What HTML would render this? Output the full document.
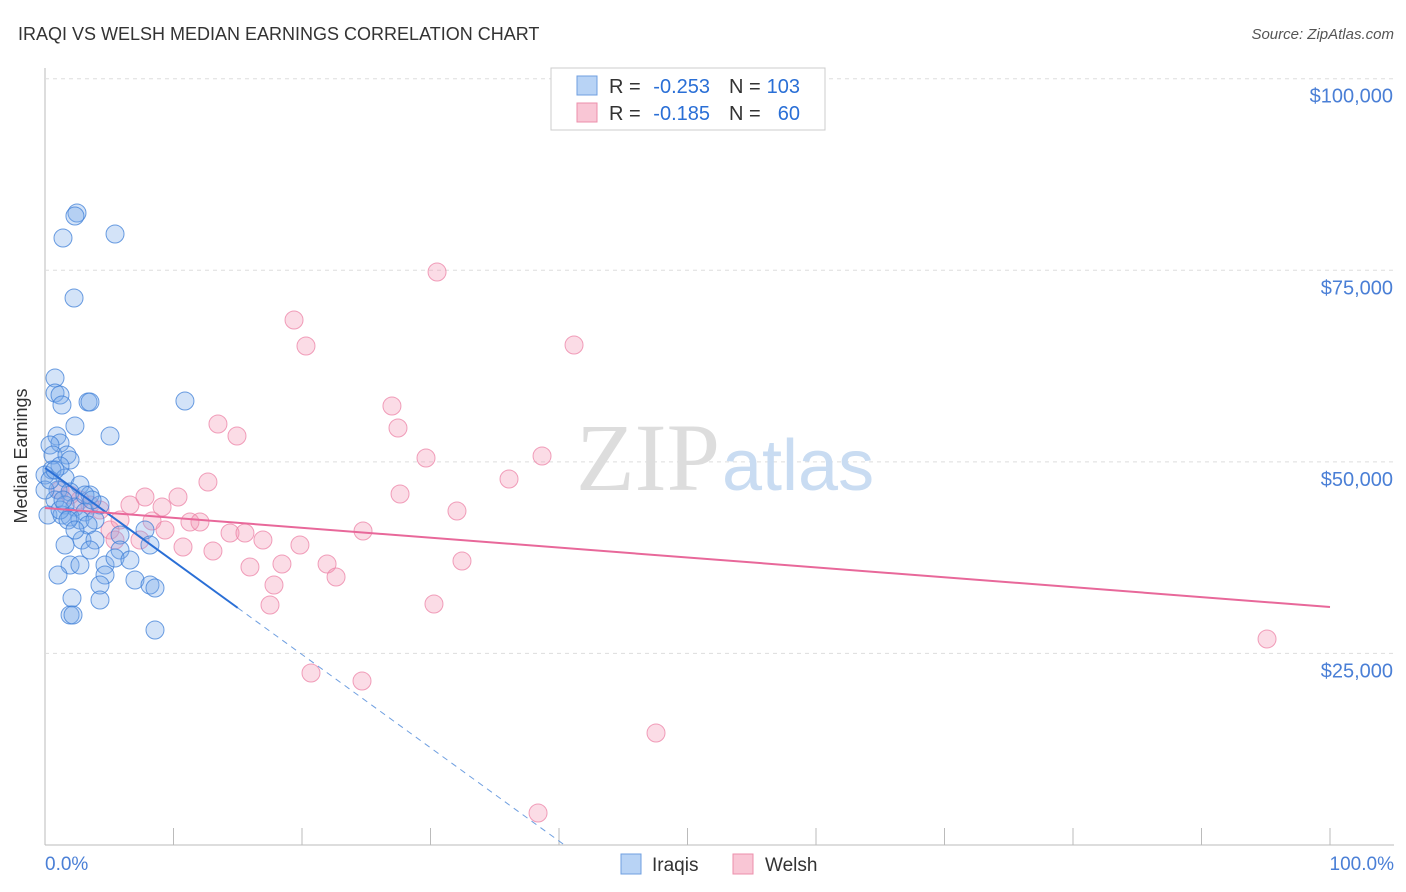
<!DOCTYPE html>
<html><head><meta charset="utf-8"><style>
body{margin:0;background:#fff;font-family:"Liberation Sans",sans-serif}
#c{position:absolute;left:0;top:0}
</style></head><body>
<svg id="c" width="1406" height="892" font-family="Liberation Sans, sans-serif">
<text x="18" y="40" font-size="18" fill="#333">IRAQI VS WELSH MEDIAN EARNINGS CORRELATION CHART</text>
<text x="1394" y="39" font-size="15" fill="#555" font-style="italic" text-anchor="end">Source: ZipAtlas.com</text>
<g id="grid"></g>
<text x="720" y="490" font-size="96" fill="#ddd" text-anchor="end" font-family="Liberation Serif, serif">ZIP</text>
<text x="722" y="490" font-size="72" fill="#c9dcf2">atlas</text>
<g id="pts"></g>
<g id="lines"></g>
<text x="27" y="456" font-size="18" fill="#333" text-anchor="middle" transform="rotate(-90 27 456)">Median Earnings</text>
<text x="45" y="870" font-size="19" fill="#4a7fd6">0.0%</text>
<text x="1394" y="870" font-size="19" fill="#4a7fd6" text-anchor="end">100.0%</text>
<g font-size="20">
<rect x="551" y="68" width="274" height="62" fill="#fff" stroke="#ccc"/>
<rect x="577" y="76" width="20" height="19" fill="#b8d3f5" stroke="#6f9fe0"/>
<rect x="577" y="103" width="20" height="19" fill="#f9c6d5" stroke="#ec8fab"/>
<text x="609" y="93" fill="#333">R =</text>
<text x="710" y="93" fill="#2a6fd6" text-anchor="end">-0.253</text>
<text x="729" y="93" fill="#333">N =</text>
<text x="800" y="93" fill="#2a6fd6" text-anchor="end">103</text>
<text x="609" y="120" fill="#333">R =</text>
<text x="710" y="120" fill="#2a6fd6" text-anchor="end">-0.185</text>
<text x="729" y="120" fill="#333">N =</text>
<text x="800" y="120" fill="#2a6fd6" text-anchor="end">60</text>
</g>
<g>
<rect x="621" y="854" width="20" height="20" fill="#b8d3f5" stroke="#6f9fe0"/>
<text x="652" y="871" font-size="19" fill="#333">Iraqis</text>
<rect x="733" y="854" width="20" height="20" fill="#f9c6d5" stroke="#ec8fab"/>
<text x="765" y="871" font-size="19" fill="#333">Welsh</text>
</g>
</svg>
<script>
const yTicks=[25000,50000,75000,100000];
const yTickLabels=["$25,000","$50,000","$75,000","$100,000"];
const iraqiPx=[[77,213],[75,216],[63,238],[115,234],[74,298],[55,378],[55,393],[60,395],[62,405],[88,402],[90,402],[185,401],[75,426],[110,436],[57,436],[60,443],[50,445],[53,455],[67,455],[70,460],[60,466],[52,470],[45,475],[65,478],[80,485],[58,490],[70,492],[90,495],[55,500],[65,505],[75,507],[85,512],[48,515],[62,515],[70,517],[80,520],[100,505],[95,520],[120,535],[88,525],[82,540],[95,540],[145,530],[150,545],[65,545],[90,550],[120,550],[70,565],[80,565],[105,565],[115,558],[130,560],[58,575],[105,575],[100,585],[135,580],[150,585],[155,588],[72,598],[100,600],[70,615],[73,615],[155,630],[45,490],[50,480],[55,470],[60,510],[68,520],[75,530],[85,495],[92,500],[63,500]];
const welshPx=[[437,272],[294,320],[306,346],[574,345],[392,406],[398,428],[218,424],[237,436],[426,458],[542,456],[208,482],[178,497],[145,497],[400,494],[509,479],[457,511],[162,507],[190,522],[200,522],[152,521],[363,531],[230,533],[245,533],[263,540],[300,545],[183,547],[213,551],[140,540],[110,530],[120,520],[250,567],[282,564],[327,564],[336,577],[462,561],[270,605],[434,604],[274,585],[311,673],[362,681],[656,733],[538,813],[1267,639],[90,505],[100,510],[70,495],[80,500],[60,490],[130,505],[115,540],[165,530]];
const iraqiX=iraqiPx.map(p=>+((p[0]-45)/12.85).toFixed(2));
const iraqiY=iraqiPx.map(p=>Math.round((845-p[1])*130.5));
const welshX=welshPx.map(p=>+((p[0]-45)/12.85).toFixed(2));
const welshY=welshPx.map(p=>Math.round((845-p[1])*130.5));
const iraqiTrend=[49200,-1217];
const welshTrend=[43980,-129.2];
const X=v=>45+v*12.85, Y=v=>845-v/130.5;
const NS="http://www.w3.org/2000/svg";
function mk(t,a,parent){const e=document.createElementNS(NS,t);for(const k in a)e.setAttribute(k,a[k]);parent.appendChild(e);return e;}
const grid=document.getElementById('grid');
mk('line',{x1:45,y1:68,x2:45,y2:845,stroke:'#bbb'},grid);
mk('line',{x1:45,y1:845,x2:1394,y2:845,stroke:'#bbb'},grid);
yTicks.forEach((t,i)=>{
 const l=mk('line',{x1:45,y1:Y(t),x2:1394,y2:Y(t),stroke:'#ddd','stroke-dasharray':'4,4'},grid);
 
 
 const tx=mk('text',{x:1393,y:Y(t)+24,'font-size':20,fill:'#4a7fd6','text-anchor':'end'},grid);
 tx.textContent=yTickLabels[i];
 
 
});
for(let i=1;i<=10;i++){const x=45+i*128.5;const l=mk('line',{x1:x,y1:828,x2:x,y2:845,stroke:'#bbb'},grid);
 
 }
const pts=document.getElementById('pts');
welshX.forEach((x,i)=>{const c=mk('circle',{cx:X(x),cy:Y(welshY[i]),r:9,fill:'rgba(244,150,180,0.33)',stroke:'rgba(236,130,165,0.75)','stroke-width':1},pts);
 
 });
iraqiX.forEach((x,i)=>{const c=mk('circle',{cx:X(x),cy:Y(iraqiY[i]),r:9,fill:'rgba(120,170,235,0.33)',stroke:'rgba(60,125,215,0.75)','stroke-width':1},pts);
 
 });
const lines=document.getElementById('lines');
const f=(t,x)=>t[0]+t[1]*x;
const xEnd=-iraqiTrend[0]/iraqiTrend[1];
let l=mk('line',{x1:X(0),y1:Y(f(iraqiTrend,0)),x2:X(15),y2:Y(f(iraqiTrend,15)),stroke:'#2a6fd6','stroke-width':2},lines);


l=mk('line',{x1:X(15),y1:Y(f(iraqiTrend,15)),x2:X(xEnd),y2:Y(0),stroke:'#6f9fe0','stroke-width':1,'stroke-dasharray':'6,5'},lines);


l=mk('line',{x1:X(0),y1:Y(f(welshTrend,0)),x2:X(100),y2:Y(f(welshTrend,100)),stroke:'#e8689a','stroke-width':2},lines);


</script>
</body></html>
